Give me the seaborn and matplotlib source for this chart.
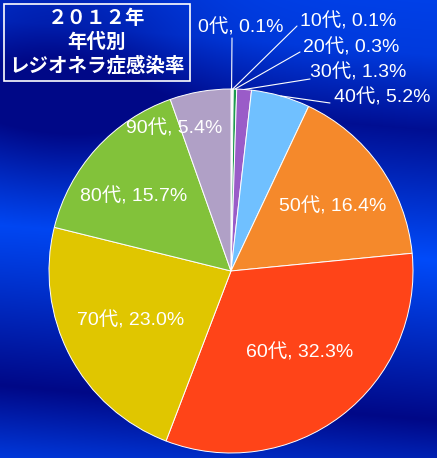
import numpy as np
import matplotlib
matplotlib.use("Agg")
import matplotlib.pyplot as plt
import seaborn as sns

# data
ages = ["0代", "10代", "20代", "30代", "40代", "50代", "60代", "70代", "80代", "90代"]
rates = [0.1, 0.1, 0.3, 1.3, 5.2, 16.4, 32.3, 23.0, 15.7, 5.4]
slice_colors = ["#e07070", "#f2e0e0", "#1f9a4e", "#9a5cc8", "#70c0ff",
                "#f5892b", "#ff4418", "#e0c600", "#82c23a", "#b0a0c6"]
title_lines = ["２０１２年", "年代別", "レジオネラ症感染率"]

sns.set_theme(style="white")
plt.rcParams["font.family"] = ["Noto Sans CJK JP", "DejaVu Sans"]
label_font = ["Liberation Sans", "Noto Sans CJK JP"]

W, H = 437, 458
fig = plt.figure(figsize=(W / 100, H / 100), dpi=100)

# background: blue gradient with diagonal bands
ax_bg = fig.add_axes([0, 0, 1, 1], zorder=0)
yy, xx = np.mgrid[0:H, 0:W]
y_eff = yy - 0.08 * xx
t = np.interp(y_eff, [-40, 20, 95, 225, 385, 470], [0.85, 0.75, 0.1, 1.0, 0.0, 0.85])
t = t - 0.45 * np.exp(-((xx - 60) ** 2 + (yy - 60) ** 2) / (2 * 90 ** 2))
t = np.clip(t, 0, 1)
dark = np.array([0, 8, 135]) / 255
bright = np.array([0, 75, 250]) / 255
img = dark + t[..., None] * (bright - dark)
ax_bg.imshow(img, extent=(0, W, H, 0), aspect="auto")
ax_bg.set_xlim(0, W)
ax_bg.set_ylim(H, 0)
ax_bg.axis("off")

# title box
ax_bg.add_patch(plt.Rectangle((4, 4), 186, 77, fill=False, edgecolor="white", linewidth=1.2))
for line, ty in zip(title_lines, [18, 42, 66]):
    ax_bg.text(97, ty, line, color="white", fontsize=14, fontweight="bold",
               ha="center", va="center")

# pie
cx, cy, r = 231, 271, 182
ax = fig.add_axes([(cx - r) / W, (H - cy - r) / H, 2 * r / W, 2 * r / H], zorder=1)
ax.patch.set_alpha(0)
wedges, _ = ax.pie(rates, colors=slice_colors, startangle=90, counterclock=False,
                   wedgeprops=dict(edgecolor="white", linewidth=0.7))
ax.set_xlim(-1, 1)
ax.set_ylim(-1, 1)
ax.axis("off")

labels = [f"{a}, {v:.1f}%" for a, v in zip(ages, rates)]

# inside labels (pixel centres)
inside_pos = {5: (333, 206), 6: (300, 352), 7: (131, 320), 8: (134, 196), 9: (174, 128)}
for i, (px, py) in inside_pos.items():
    fig.text(px / W, 1 - py / H, labels[i], color="white", fontsize=14,
             family=label_font, ha="center", va="center")

# outside labels with leader lines
outside_text = {0: (241, 27), 1: (348, 21), 2: (351, 47), 3: (358, 72), 4: (382, 97)}
line_end = {0: (232, 38), 1: (297, 26), 2: (300, 52), 3: (310, 79), 4: (330, 103)}
for i in range(5):
    w = wedges[i]
    mid = np.deg2rad((w.theta1 + w.theta2) / 2)
    ex, ey = line_end[i]
    ax.annotate("", xy=(np.cos(mid), np.sin(mid)), xycoords="data",
                xytext=(ex, H - ey), textcoords="figure pixels",
                arrowprops=dict(arrowstyle="-", color="white", lw=0.8,
                                shrinkA=0, shrinkB=0))
    px, py = outside_text[i]
    fig.text(px / W, 1 - py / H, labels[i], color="white", fontsize=14,
             family=label_font, ha="center", va="center")

fig.savefig("out.png", dpi=100)
